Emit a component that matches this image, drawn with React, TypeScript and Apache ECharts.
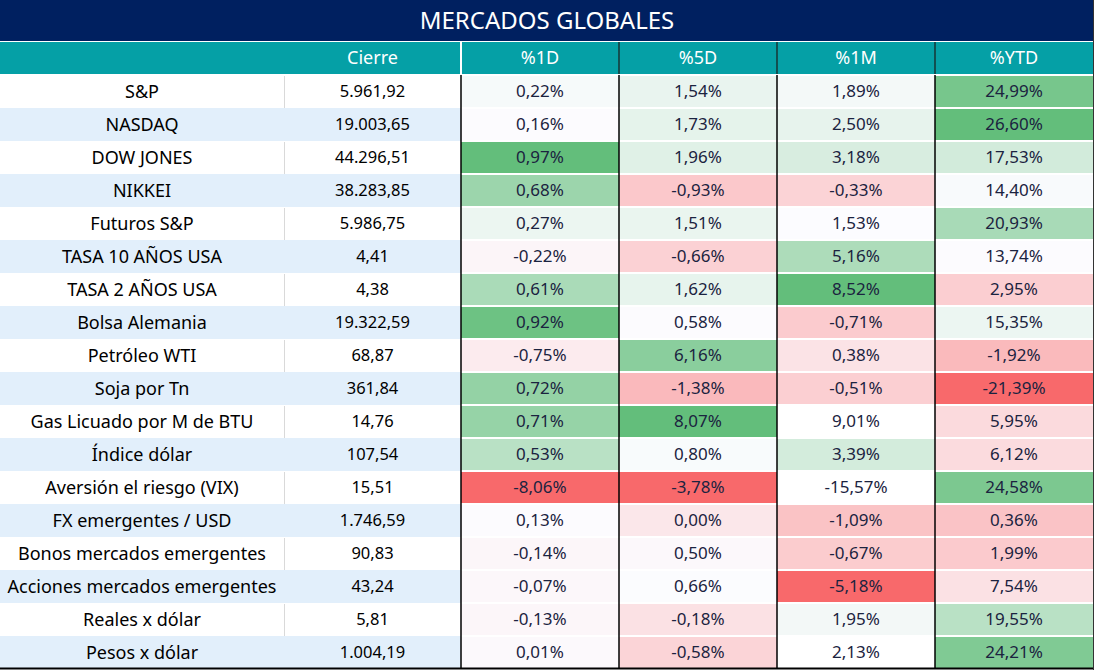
import React, { useEffect, useRef } from "react";
import * as echarts from "echarts";

const title = "MERCADOS GLOBALES";
const headers = ["", "Cierre", "%1D", "%5D", "%1M", "%YTD"];
const names = [
  "S&P",
  "NASDAQ",
  "DOW JONES",
  "NIKKEI",
  "Futuros S&P",
  "TASA 10 AÑOS USA",
  "TASA 2 AÑOS USA",
  "Bolsa Alemania",
  "Petróleo WTI",
  "Soja por Tn",
  "Gas Licuado por M de BTU",
  "Índice dólar",
  "Aversión el riesgo (VIX)",
  "FX emergentes / USD",
  "Bonos mercados emergentes",
  "Acciones mercados emergentes",
  "Reales x dólar",
  "Pesos x dólar",
];
const cierre = [
  5961.92, 19003.65, 44296.51, 38283.85, 5986.75, 4.41, 4.38, 19322.59, 68.87,
  361.84, 14.76, 107.54, 15.51, 1746.59, 90.83, 43.24, 5.81, 1004.19,
];
const pct1D = [
  0.22, 0.16, 0.97, 0.68, 0.27, -0.22, 0.61, 0.92, -0.75, 0.72, 0.71, 0.53,
  -8.06, 0.13, -0.14, -0.07, -0.13, 0.01,
];
const pct5D = [
  1.54, 1.73, 1.96, -0.93, 1.51, -0.66, 1.62, 0.58, 6.16, -1.38, 8.07, 0.8,
  -3.78, 0.0, 0.5, 0.66, -0.18, -0.58,
];
const pct1M = [
  1.89, 2.5, 3.18, -0.33, 1.53, 5.16, 8.52, -0.71, 0.38, -0.51, 9.01, 3.39,
  -15.57, -1.09, -0.67, -5.18, 1.95, 2.13,
];
const pctYTD = [
  24.99, 26.6, 17.53, 14.4, 20.93, 13.74, 2.95, 15.35, -1.92, -21.39, 5.95,
  6.12, 24.58, 0.36, 1.99, 7.54, 19.55, 24.21,
];
// cells [row, pctColumnIndex] that carry no colour scale in the original
const unformattedCells = [
  [10, 2],
  [12, 2],
  [17, 2],
];

const pctCols = [pct1D, pct5D, pct1M, pctYTD];

// layout
const W = 1094;
const H = 670;
const colEdges = [0, 284, 461, 619, 777, 935, 1093];
const titleH = 41;
const headTop = 42;
const headH = 32;
const tableTop = 75;
const rowH = 33;

const FONT = "'Noto Sans', sans-serif";
const RED = [248, 105, 107];
const MID = [252, 252, 255];
const GREEN = [99, 190, 123];

function isUnformatted(r: number, k: number) {
  return unformattedCells.some((u) => u[0] === r && u[1] === k);
}

function median(a: number[]) {
  const s = [...a].sort((x, y) => x - y);
  const n = s.length;
  const pos = (n - 1) * 0.5;
  const lo = Math.floor(pos);
  const hi = Math.ceil(pos);
  return s[lo] + (s[hi] - s[lo]) * (pos - lo);
}

function mix(a: number[], b: number[], t: number) {
  const c = a.map((v, i) => Math.round(v + (b[i] - v) * t));
  return `rgb(${c[0]},${c[1]},${c[2]})`;
}

function scaleColor(k: number, r: number) {
  if (isUnformatted(r, k)) return "#FFFFFF";
  const vals = pctCols[k].filter((_, i) => !isUnformatted(i, k));
  const mn = Math.min(...vals);
  const mx = Math.max(...vals);
  const md = median(vals);
  const v = pctCols[k][r];
  if (v >= md) return mix(MID, GREEN, mx === md ? 0 : (v - md) / (mx - md));
  return mix(MID, RED, md === mn ? 0 : (md - v) / (md - mn));
}

function fmtNum(v: number, dec: number) {
  const s = Math.abs(v).toFixed(dec);
  const [i, d] = s.split(".");
  const g = i.replace(/\B(?=(\d{3})+(?!\d))/g, ".");
  return (v < 0 ? "-" : "") + g + (d ? "," + d : "");
}

export default function App() {
  const ref = useRef<HTMLDivElement>(null);
  useEffect(() => {
    if (!ref.current) return;
    const chart = echarts.init(ref.current, undefined, { renderer: "svg" });

    const data: number[][] = [];
    for (let r = 0; r < names.length; r++) {
      for (let c = 0; c < headers.length; c++) data.push([c, r]);
    }

    const renderItem = (params: any, api: any) => {
      const c = api.value(0);
      const r = api.value(1);
      const pL = api.coord([colEdges[c], r]);
      const pR = api.coord([colEdges[c + 1], r]);
      const h = api.size([0, 1])[1];
      const top = pL[1] - h / 2;
      const cx = (pL[0] + pR[0]) / 2;
      const children: any[] = [];
      if (c < 2) {
        const fill = r % 2 === 1 ? "#E2EFFB" : "#FFFFFF";
        children.push({
          type: "rect",
          shape: { x: pL[0], y: top, width: pR[0] - pL[0], height: h },
          style: { fill },
        });
        if (c === 1 && r % 2 === 0) {
          children.push({
            type: "line",
            shape: { x1: pL[0] + 0.5, y1: top + 1, x2: pL[0] + 0.5, y2: top + h },
            style: { stroke: "#D9D9D9", lineWidth: 1 },
          });
        }
        children.push({
          type: "text",
          style: {
            text: c === 0 ? names[r] : fmtNum(cierre[r], 2),
            x: cx,
            y: pL[1] - 1,
            align: "center",
            verticalAlign: "middle",
            fill: "#000000",
            fontSize: c === 0 ? 18 : 16.5,
            fontFamily: FONT,
          },
        });
      } else {
        const k = c - 2;
        children.push({
          type: "rect",
          shape: { x: pL[0], y: top + 1, width: pR[0] - pL[0], height: h - 2 },
          style: { fill: scaleColor(k, r) },
        });
        children.push({
          type: "line",
          shape: { x1: pL[0], y1: top, x2: pL[0], y2: top + h },
          style: { stroke: "#000000", lineWidth: 1.5 },
        });
        children.push({
          type: "text",
          style: {
            text: fmtNum(pctCols[k][r], 2) + "%",
            x: cx,
            y: pL[1] - 1,
            align: "center",
            verticalAlign: "middle",
            fill: "#1B2340",
            fontSize: 17,
            fontFamily: FONT,
          },
        });
      }
      return { type: "group", children };
    };

    const headerGraphics: any[] = [];
    headerGraphics.push({
      type: "rect",
      shape: { x: 0, y: 0, width: colEdges[6], height: titleH },
      style: { fill: "#002060" },
    });
    headerGraphics.push({
      type: "text",
      style: {
        text: title,
        x: W / 2,
        y: titleH / 2 - 1,
        align: "center",
        verticalAlign: "middle",
        fill: "#FFFFFF",
        fontSize: 24,
        fontFamily: FONT,
      },
    });
    headerGraphics.push({
      type: "rect",
      shape: { x: 0, y: headTop, width: colEdges[6], height: headH },
      style: { fill: "#05A0A6" },
    });
    for (let c = 2; c < colEdges.length - 1; c++) {
      headerGraphics.push({
        type: "line",
        shape: { x1: colEdges[c], y1: headTop, x2: colEdges[c], y2: headTop + headH },
        style: { stroke: c === 2 ? "#FFFFFF" : "#1a1a1a", lineWidth: c === 2 ? 2 : 1.2 },
      });
    }
    headers.forEach((t, c) => {
      if (!t) return;
      headerGraphics.push({
        type: "text",
        style: {
          text: t,
          x: (colEdges[c] + colEdges[c + 1]) / 2,
          y: headTop + headH / 2 - 1,
          align: "center",
          verticalAlign: "middle",
          fill: "#FFFFFF",
          fontSize: 18,
          fontFamily: FONT,
        },
      });
    });
    headerGraphics.push({
      type: "line",
      shape: { x1: 0, y1: tableTop + rowH * names.length - 0.5, x2: W, y2: tableTop + rowH * names.length - 0.5 },
      style: { stroke: "#000000", lineWidth: 2 },
      z: 100,
    });
    headerGraphics.push({
      type: "line",
      shape: { x1: colEdges[6] + 0.5, y1: 0, x2: colEdges[6] + 0.5, y2: H },
      style: { stroke: "#333333", lineWidth: 1 },
      z: 100,
    });

    chart.setOption({
      animation: false,
      grid: { left: 0, right: 0, top: tableTop, height: rowH * names.length },
      xAxis: { type: "value", min: 0, max: W, show: false },
      yAxis: { type: "category", data: names, inverse: true, show: false },
      graphic: headerGraphics,
      series: [
        {
          type: "custom",
          renderItem,
          data,
          clip: false,
        },
      ],
    });
    return () => chart.dispose();
  }, []);
  return (
    <div
      ref={ref}
      style={{ position: "fixed", left: 0, top: 0, width: W, height: H, background: "#FFFFFF" }}
    />
  );
}
